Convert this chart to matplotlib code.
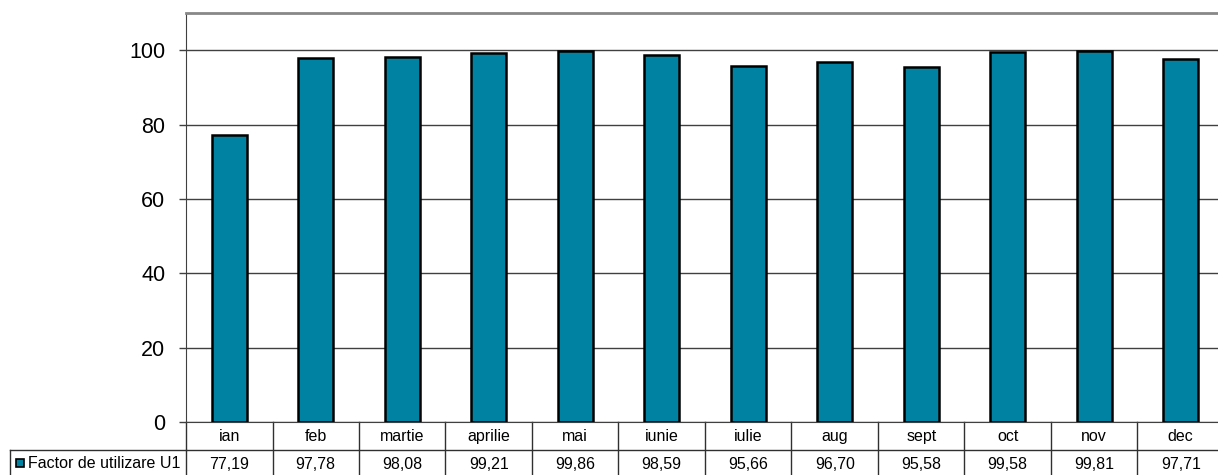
import matplotlib.pyplot as plt
import matplotlib.transforms as mtransforms
from matplotlib.patches import Rectangle
import numpy as np

months = ['ian', 'feb', 'martie', 'aprilie', 'mai', 'iunie', 'iulie',
          'aug', 'sept', 'oct', 'nov', 'dec']
factor_u1 = [77.19, 97.78, 98.08, 99.21, 99.86, 98.59, 95.66,
             96.70, 95.58, 99.58, 99.81, 97.71]
series_name = 'Factor de utilizare U1'
y_ticks = [0, 20, 40, 60, 80, 100]

bar_color = '#0083A3'
plt.rcParams['font.family'] = ['Liberation Sans', 'DejaVu Sans']

W, H = 1218, 475
fig = plt.figure(figsize=(W / 100, H / 100), dpi=100)

# axes in pixel terms (right edge runs past the figure like the source)
left_px, right_px, top_px, bottom_px = 186, 1224, 13, 422
ax = fig.add_axes([left_px / W, (H - bottom_px) / H,
                   (right_px - left_px) / W, (bottom_px - top_px) / H])

x = np.arange(len(months))
ax.bar(x, factor_u1, width=0.4, color=bar_color, edgecolor='black',
       linewidth=1.8, zorder=3)

ax.set_xlim(-0.5, len(months) - 0.5)
ax.set_ylim(0, 110)
ax.set_yticks(y_ticks)
ax.set_yticklabels([str(v) for v in y_ticks], fontsize=15.5)
ax.set_xticks([])
ax.tick_params(axis='y', direction='out', length=5, width=1, color='#404040', pad=10)
ax.yaxis.grid(True, color='#404040', linewidth=1)
ax.set_axisbelow(True)

ax.spines['top'].set_color('#888888')
ax.spines['top'].set_linewidth(2)
ax.spines['left'].set_color('#404040')
ax.spines['bottom'].set_color('#404040')
ax.spines['right'].set_visible(False)

# data table under the axes
ax_h = bottom_px - top_px
row_h = 28 / ax_h
blend = mtransforms.blended_transform_factory(ax.transData, ax.transAxes)
line_kw = dict(color='#303030', linewidth=1, transform=blend, clip_on=False)

for i in range(len(months) + 1):
    xb = i - 0.5
    ax.plot([xb, xb], [0, -2.2 * row_h], **line_kw)
ax.plot([-0.5, len(months) - 0.5], [-row_h, -row_h], **line_kw)

for i, (m, v) in enumerate(zip(months, factor_u1)):
    ax.text(i, -0.52 * row_h, m, transform=blend, ha='center', va='center',
            fontsize=11.5, clip_on=False)
    ax.text(i, -1.52 * row_h, f'{v:.2f}'.replace('.', ','), transform=blend,
            ha='center', va='center', fontsize=11.5, clip_on=False)

# row label cell, in figure pixels
fig_px = mtransforms.Affine2D().scale(1 / W, 1 / H) + fig.transFigure
y_row = H - 450
fig.add_artist(plt.Line2D([10, left_px], [y_row, y_row], color='#303030',
                          linewidth=1, transform=fig_px))
fig.add_artist(plt.Line2D([10, 10], [y_row, 0], color='#303030',
                          linewidth=1, transform=fig_px))
fig.add_artist(Rectangle((16, H - 467), 8, 8, facecolor=bar_color,
                         edgecolor='black', linewidth=1.2, transform=fig_px))
fig.text(28 / W, (H - 463) / H, series_name, fontsize=11.5, va='center', ha='left')

fig.savefig('out.png', dpi=100)
